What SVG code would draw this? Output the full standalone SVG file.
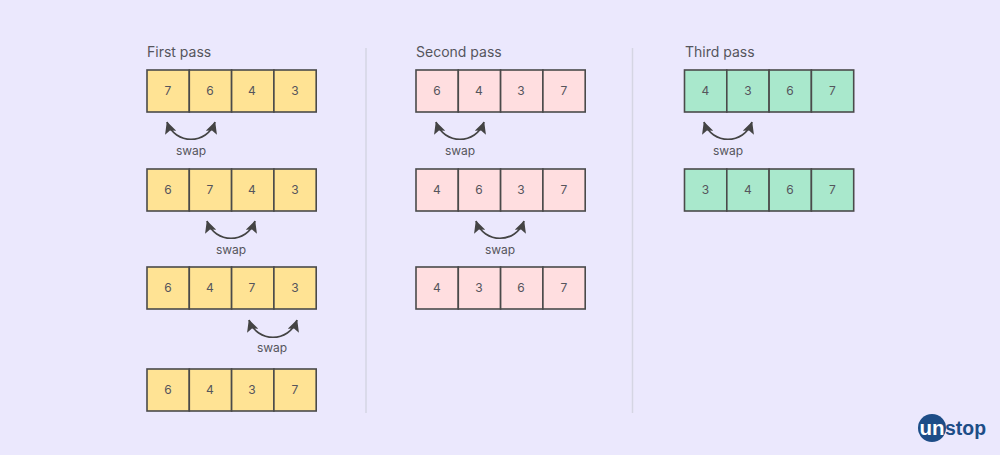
<svg xmlns="http://www.w3.org/2000/svg" width="1000" height="455" viewBox="0 0 1000 455">
<defs>
<style>
text{font-family:Inter,"Liberation Sans",sans-serif;fill:#55555c}
.t{font-size:14px}
.n{font-size:12px;text-anchor:middle}
.s{font-size:12px;text-anchor:middle}
.c{stroke:#4a4a4a;stroke-width:1.6}
.y{fill:#ffe394}.p{fill:#ffdee0}.g{fill:#a9e8cc}
.a{fill:none;stroke:#444;stroke-width:1.7;marker-start:url(#h);marker-end:url(#h)}
.d{stroke:#d5d5e3;stroke-width:1.5}
.b{font-family:"Liberation Sans",sans-serif;font-weight:700;font-size:20px;fill:#1d4d87}
</style>
<marker id="h" viewBox="0 0 10 10" refX="9.500" refY="5" markerWidth="12" markerHeight="12" markerUnits="userSpaceOnUse" orient="auto-start-reverse"><path d="M0 0L10 5L0 10L2 5Z" fill="#444"/></marker>
<g id="cells"><rect id="cell" width="42.3" height="42" class="c"/></g>
</defs>
<rect width="1000" height="455" fill="#ebe8fd"/>
<g id="dividers"><path class="d" d="M366 48V413M632.500 48V413"/></g>
<g id="labels"><text class="t" x="147" y="56.500">First pass</text><text class="t" x="416" y="56.500">Second pass</text><text class="t" x="685" y="56.500">Third pass</text></g>
<g id="connectors">
<path class="a" d="M167 122C175 145 207 145 215 122"/>
<path class="a" d="M207 221C215 244 247 244 255 221"/>
<path class="a" d="M249 320C257 343 289 343 297 320"/>
<path class="a" d="M436 122C444 145 476 145 484 122"/>
<path class="a" d="M476 221C484 244 516 244 524 221"/>
<path class="a" d="M704 122C712 145 744 145 752 122"/>
<text class="s" x="191" y="155">swap</text><text class="s" x="231" y="254">swap</text><text class="s" x="272" y="352">swap</text><text class="s" x="460" y="155">swap</text><text class="s" x="500" y="254">swap</text><text class="s" x="728" y="155">swap</text>
</g>
<g id="p1r1" class="y"><use href="#cell" x="147" y="70"/><use href="#cell" x="189.300" y="70"/><use href="#cell" x="231.600" y="70"/><use href="#cell" x="273.900" y="70"/><text class="n" x="168" y="95">7</text><text class="n" x="210" y="95">6</text><text class="n" x="252" y="95">4</text><text class="n" x="295" y="95">3</text></g>
<g id="p1r2" class="y"><use href="#cell" x="147" y="169"/><use href="#cell" x="189.300" y="169"/><use href="#cell" x="231.600" y="169"/><use href="#cell" x="273.900" y="169"/><text class="n" x="168" y="194">6</text><text class="n" x="210" y="194">7</text><text class="n" x="252" y="194">4</text><text class="n" x="295" y="194">3</text></g>
<g id="p1r3" class="y"><use href="#cell" x="147" y="267"/><use href="#cell" x="189.300" y="267"/><use href="#cell" x="231.600" y="267"/><use href="#cell" x="273.900" y="267"/><text class="n" x="168" y="292">6</text><text class="n" x="210" y="292">4</text><text class="n" x="252" y="292">7</text><text class="n" x="295" y="292">3</text></g>
<g id="p1r4" class="y"><use href="#cell" x="147" y="369"/><use href="#cell" x="189.300" y="369"/><use href="#cell" x="231.600" y="369"/><use href="#cell" x="273.900" y="369"/><text class="n" x="168" y="394">6</text><text class="n" x="210" y="394">4</text><text class="n" x="252" y="394">3</text><text class="n" x="295" y="394">7</text></g>
<g id="p2r1" class="p"><use href="#cell" x="416" y="70"/><use href="#cell" x="458.300" y="70"/><use href="#cell" x="500.600" y="70"/><use href="#cell" x="542.900" y="70"/><text class="n" x="437" y="95">6</text><text class="n" x="479" y="95">4</text><text class="n" x="521" y="95">3</text><text class="n" x="564" y="95">7</text></g>
<g id="p2r2" class="p"><use href="#cell" x="416" y="169"/><use href="#cell" x="458.300" y="169"/><use href="#cell" x="500.600" y="169"/><use href="#cell" x="542.900" y="169"/><text class="n" x="437" y="194">4</text><text class="n" x="479" y="194">6</text><text class="n" x="521" y="194">3</text><text class="n" x="564" y="194">7</text></g>
<g id="p2r3" class="p"><use href="#cell" x="416" y="267"/><use href="#cell" x="458.300" y="267"/><use href="#cell" x="500.600" y="267"/><use href="#cell" x="542.900" y="267"/><text class="n" x="437" y="292">4</text><text class="n" x="479" y="292">3</text><text class="n" x="521" y="292">6</text><text class="n" x="564" y="292">7</text></g>
<g id="p3r1" class="g"><use href="#cell" x="684.500" y="70"/><use href="#cell" x="726.800" y="70"/><use href="#cell" x="769.100" y="70"/><use href="#cell" x="811.400" y="70"/><text class="n" x="705.500" y="95">4</text><text class="n" x="748" y="95">3</text><text class="n" x="790" y="95">6</text><text class="n" x="832.500" y="95">7</text></g>
<g id="p3r2" class="g"><use href="#cell" x="684.500" y="169"/><use href="#cell" x="726.800" y="169"/><use href="#cell" x="769.100" y="169"/><use href="#cell" x="811.400" y="169"/><text class="n" x="705.500" y="194">3</text><text class="n" x="748" y="194">4</text><text class="n" x="790" y="194">6</text><text class="n" x="832.500" y="194">7</text></g>
<g id="logo"><circle cx="932" cy="428" r="14" fill="#1d4d87"/><text class="b" x="919.500" y="435" style="fill:#fff" textLength="25" lengthAdjust="spacingAndGlyphs">un</text><text class="b" x="945" y="435" textLength="41" lengthAdjust="spacingAndGlyphs">stop</text></g>
</svg>
